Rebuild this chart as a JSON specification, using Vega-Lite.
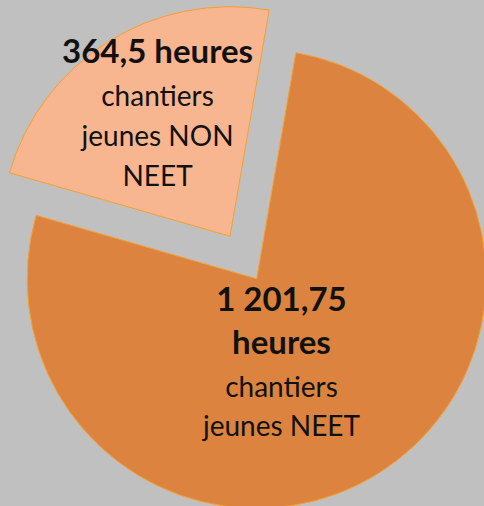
{
  "$schema": "https://vega.github.io/schema/vega-lite/v6.json",
  "width": 484,
  "height": 506,
  "autosize": {"type": "fit", "contains": "padding"},
  "padding": 0,
  "background": "#C0C0C0",
  "config": {"view": {"stroke": null}},
  "data": {
    "values": [
      {"order": 1, "part": "NEET", "value": 1201.75, "valeur": "1 201,75\nheures", "libelle": "chantiers\njeunes NEET"},
      {"order": 2, "part": "NON NEET", "value": 364.5, "valeur": "364,5 heures", "libelle": "chantiers\njeunes NON\nNEET"}
    ]
  },
  "encoding": {
    "theta": {"field": "value", "type": "quantitative", "stack": true, "scale": {"range": [0.1716, 6.4548]}},
    "order": {"field": "order", "type": "ordinal"}
  },
  "layer": [
    {
      "mark": {"type": "arc", "outerRadius": 229.5, "xOffset": 19.7, "yOffset": 30.8, "fill": "#DC843F", "stroke": "#F4A030", "strokeWidth": 1},
      "encoding": {"opacity": {"condition": {"test": "datum.part === 'NEET'", "value": 1}, "value": 0}}
    },
    {
      "mark": {"type": "arc", "outerRadius": 229.5, "xOffset": -7, "yOffset": -11.8, "fill": "#F8B690", "stroke": "#F4A030", "strokeWidth": 1},
      "encoding": {"opacity": {"condition": {"test": "datum.part === 'NON NEET'", "value": 1}, "value": 0}}
    },
    {
      "mark": {"type": "text", "radius": 49.5, "xOffset": 18.2, "yOffset": 28.8, "dy": -8, "font": "Lato", "fontWeight": "bold", "fontSize": 33, "lineHeight": 43, "lineBreak": "\n", "baseline": "alphabetic", "align": "center", "color": "#111111"},
      "encoding": {"text": {"condition": {"test": "datum.part === 'NEET'", "field": "valeur"}, "value": ""}}
    },
    {
      "mark": {"type": "text", "radius": 49.5, "xOffset": 18.2, "yOffset": 28.8, "dy": 78.5, "font": "Lato", "fontSize": 28, "lineHeight": 39, "lineBreak": "\n", "baseline": "alphabetic", "align": "center", "color": "#111111"},
      "encoding": {"text": {"condition": {"test": "datum.part === 'NEET'", "field": "libelle"}, "value": ""}}
    },
    {
      "mark": {"type": "text", "radius": 133.7, "xOffset": -8.5, "yOffset": -13.8, "dy": -58, "font": "Lato", "fontWeight": "bold", "fontSize": 33, "lineHeight": 43, "lineBreak": "\n", "baseline": "alphabetic", "align": "center", "color": "#111111"},
      "encoding": {"text": {"condition": {"test": "datum.part === 'NON NEET'", "field": "valeur"}, "value": ""}}
    },
    {
      "mark": {"type": "text", "radius": 133.7, "xOffset": -8.5, "yOffset": -13.8, "dy": -14.4, "font": "Lato", "fontSize": 28, "lineHeight": 40, "lineBreak": "\n", "baseline": "alphabetic", "align": "center", "color": "#111111"},
      "encoding": {"text": {"condition": {"test": "datum.part === 'NON NEET'", "field": "libelle"}, "value": ""}}
    }
  ]
}
